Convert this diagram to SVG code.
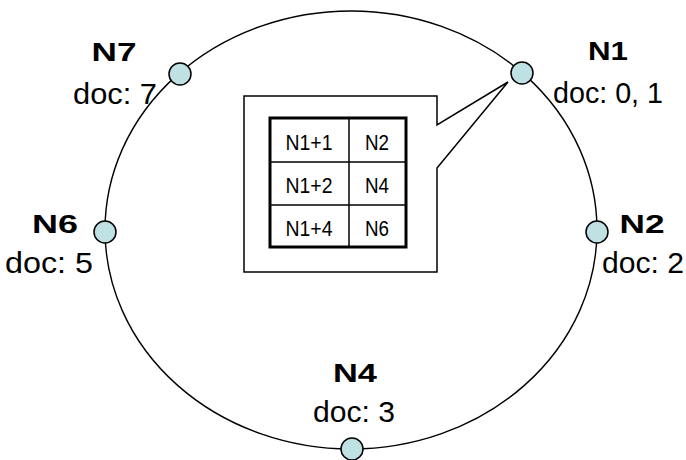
<svg xmlns="http://www.w3.org/2000/svg" width="686" height="460" viewBox="0 0 686 460">
<style>
.ring{fill:none;stroke:#000;stroke-width:1.4}
.node{fill:#bfe1e4;stroke:#000;stroke-width:1.5}
.lbl{font-family:"Liberation Sans",Arial,sans-serif;font-weight:bold;font-size:25px;text-anchor:middle;fill:#000}
.doc{font-family:"Liberation Sans",Arial,sans-serif;font-size:30px;text-anchor:middle;fill:#000}
.cell{font-family:"Liberation Sans",Arial,sans-serif;font-size:22px;text-anchor:middle;fill:#000}
.callout{fill:#fff;stroke:#000;stroke-width:1.5}
.thin{stroke:#000;stroke-width:1.5}
</style>
<rect width="686" height="460" fill="#fff"/>
<g id="connectors">
<ellipse class="ring" cx="351" cy="230" rx="246" ry="219"/>
</g>
<g id="callout">
<path class="callout" d="M244,96 H437 V125 L508,82 L437,168 V272 H244 Z"/>
<rect x="270" y="118" width="136" height="129" fill="#fff" stroke="#000" stroke-width="3"/>
<line class="thin" x1="349" y1="118" x2="349" y2="247"/>
<line class="thin" x1="270" y1="162" x2="406" y2="162"/>
<line class="thin" x1="270" y1="205" x2="406" y2="205"/>
<text class="cell" x="309" y="150" textLength="47" lengthAdjust="spacingAndGlyphs">N1+1</text>
<text class="cell" x="377" y="150" textLength="24" lengthAdjust="spacingAndGlyphs">N2</text>
<text class="cell" x="309" y="193" textLength="47" lengthAdjust="spacingAndGlyphs">N1+2</text>
<text class="cell" x="377" y="193" textLength="24" lengthAdjust="spacingAndGlyphs">N4</text>
<text class="cell" x="309" y="236" textLength="47" lengthAdjust="spacingAndGlyphs">N1+4</text>
<text class="cell" x="377" y="236" textLength="24" lengthAdjust="spacingAndGlyphs">N6</text>
</g>
<g id="N7">
<circle class="node" cx="180" cy="74" r="11"/>
<text class="lbl" x="114" y="61" textLength="45" lengthAdjust="spacingAndGlyphs">N7</text>
<text class="doc" x="115" y="104" textLength="84" lengthAdjust="spacingAndGlyphs">doc: 7</text>
</g>
<g id="N1">
<circle class="node" cx="522" cy="73" r="11"/>
<text class="lbl" x="608" y="60" textLength="40" lengthAdjust="spacingAndGlyphs">N1</text>
<text class="doc" x="608" y="103" textLength="110" lengthAdjust="spacingAndGlyphs">doc: 0, 1</text>
</g>
<g id="N6">
<circle class="node" cx="105" cy="232" r="11"/>
<text class="lbl" x="55" y="233" textLength="46" lengthAdjust="spacingAndGlyphs">N6</text>
<text class="doc" x="49" y="273" textLength="88" lengthAdjust="spacingAndGlyphs">doc: 5</text>
</g>
<g id="N2">
<circle class="node" cx="597" cy="232" r="11"/>
<text class="lbl" x="642" y="233" textLength="45" lengthAdjust="spacingAndGlyphs">N2</text>
<text class="doc" x="643" y="273" textLength="82" lengthAdjust="spacingAndGlyphs">doc: 2</text>
</g>
<g id="N4">
<circle class="node" cx="352" cy="449" r="11"/>
<text class="lbl" x="355" y="382" textLength="44" lengthAdjust="spacingAndGlyphs">N4</text>
<text class="doc" x="354" y="422" textLength="82" lengthAdjust="spacingAndGlyphs">doc: 3</text>
</g>
</svg>
